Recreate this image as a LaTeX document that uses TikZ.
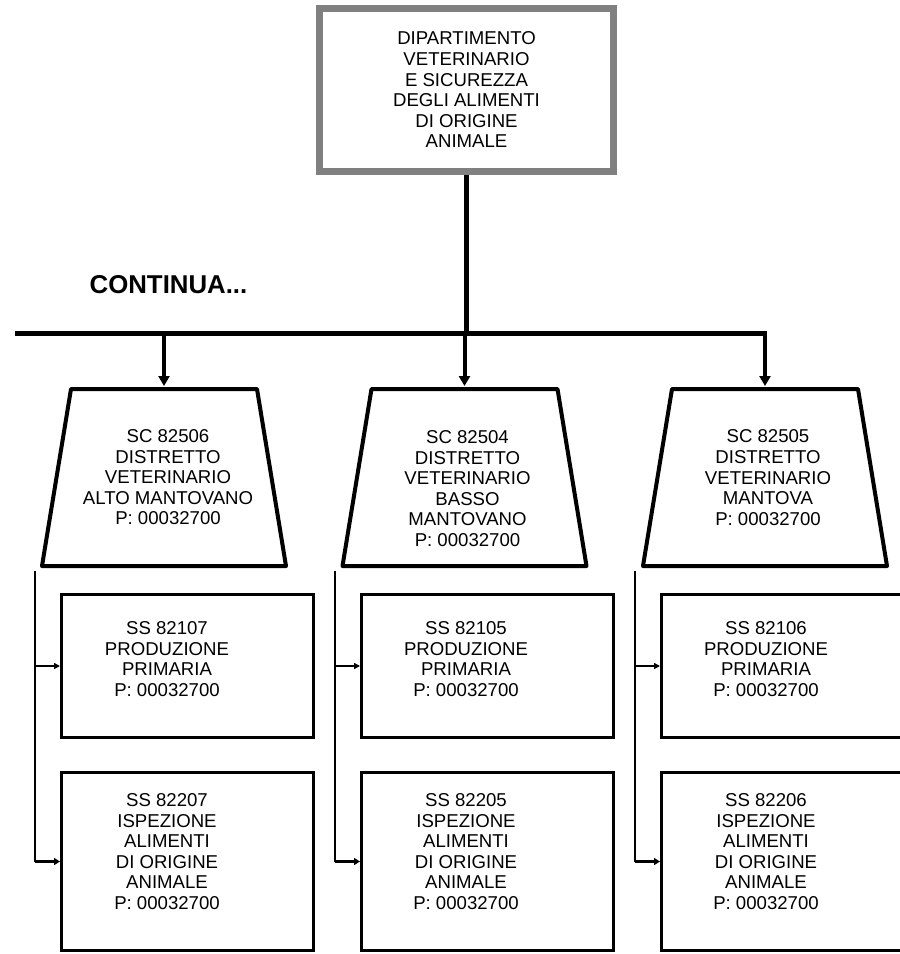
\documentclass[tikz,border=0pt]{standalone}
\usepackage{fontspec}
\setmainfont{Liberation Sans}
\usetikzlibrary{arrows.meta}
\definecolor{topgray}{RGB}{128,128,128}
\newcommand{\mytrapez}[2]{%
  \draw[trapline] (#1-93,389) -- (#1+93,389) -- (#1+122,566) -- (#1-122,566) -- cycle;
  \coordinate (#2) at (#1,389);}
\begin{document}
\begin{tikzpicture}[x=1pt,y=-1pt,
  txt/.style={font=\fontsize{18.6}{20.6}\selectfont, align=center, inner sep=0pt, anchor=north},
  trapline/.style={line width=4pt, line join=round},
  topbox/.style={draw=topgray, line width=7pt, minimum width=294pt, minimum height=163pt, inner sep=0pt},
  sbox/.style={draw, line width=3pt, minimum width=252pt, inner sep=0pt},
  rowa/.style={sbox, minimum height=143pt},
  rowb/.style={sbox, minimum height=178pt},
  busline/.style={line width=5pt},
  bigarrow/.style={line width=4pt, -{Triangle[width=11pt,length=10pt]}, shorten >=3pt},
  thin/.style={line width=2pt},
  smallarrow/.style={line width=2pt, -{Triangle[width=6pt,length=6pt]}},
  smallarrowb/.style={line width=3pt, -{Triangle[width=7pt,length=6pt]}}
]
\clip (0,0) rectangle (900,954);
\fill[white] (0,0) rectangle (900,954);

% top box
\node[topbox, txt, anchor=center] (top) at (466.5,90) {DIPARTIMENTO\\VETERINARIO\\E SICUREZZA\\DEGLI ALIMENTI\\DI ORIGINE\\ANIMALE};

\node[font=\fontsize{25.8}{28}\selectfont\bfseries, inner sep=0pt] (cont) at (168.5,285) {CONTINUA...};

% bus
\coordinate (busL) at (15,333);
\coordinate (busM) at (466,333);
\coordinate (busR) at (765,333);
\draw[line width=5pt] (top.south -| busM) -- (busM);

% trapezoids
\mytrapez{164}{t1}
\mytrapez{464.5}{t2}
\mytrapez{765}{t3}

\draw[busline] (busL) -- (busR);
\draw[bigarrow, line join=miter] (busL) -- (busR) -- (t3);
\draw[bigarrow] (t1 |- busL) -- (t1);
\draw[bigarrow] (t2 |- busL) -- (t2);

\node[txt] (t1txt) at (168,429.4) {SC 82506\\DISTRETTO\\VETERINARIO\\ALTO MANTOVANO\\P: 00032700};
\node[txt] (t2txt) at (467.5,430.4) {SC 82504\\DISTRETTO\\VETERINARIO\\BASSO\\MANTOVANO\\P: 00032700};
\node[txt] (t3txt) at (768,429.8) {SC 82505\\DISTRETTO\\VETERINARIO\\MANTOVA\\P: 00032700};

% small boxes
\node[rowa] (b1a) at (187.5,666) {};
\node[rowb] (b1b) at (187.5,861.5) {};
\node[rowa] (b2a) at (487.5,666) {};
\node[rowb] (b2b) at (487.5,861.5) {};
\node[rowa] (b3a) at (787.5,666) {};
\node[rowb] (b3b) at (787.5,861.5) {};

\node[txt] (b1at) at (167,621.4) {SS 82107\\PRODUZIONE\\PRIMARIA\\P: 00032700};
\node[txt] (b2at) at (466,621.4) {SS 82105\\PRODUZIONE\\PRIMARIA\\P: 00032700};
\node[txt] (b3at) at (766,621.4) {SS 82106\\PRODUZIONE\\PRIMARIA\\P: 00032700};
\node[txt] (b1bt) at (167,793.4) {SS 82207\\ISPEZIONE\\ALIMENTI\\DI ORIGINE\\ANIMALE\\P: 00032700};
\node[txt] (b2bt) at (466,793.4) {SS 82205\\ISPEZIONE\\ALIMENTI\\DI ORIGINE\\ANIMALE\\P: 00032700};
\node[txt] (b3bt) at (766,793.4) {SS 82206\\ISPEZIONE\\ALIMENTI\\DI ORIGINE\\ANIMALE\\P: 00032700};

% side connectors
\coordinate (c1) at (35,571);
\coordinate (c2) at (335,571);
\coordinate (c3) at (635,571);
\foreach \c/\a/\b in {c1/b1a/b1b, c2/b2a/b2b, c3/b3a/b3b}{
  \draw[thin] (\c) -- (\c |- \b.west);
  \draw[smallarrow] (\c |- \a.west) -- (\a.west);
  \draw[smallarrowb, line join=miter] (\c |- \b.west) -- (\b.west);
}
\end{tikzpicture}
\end{document}
